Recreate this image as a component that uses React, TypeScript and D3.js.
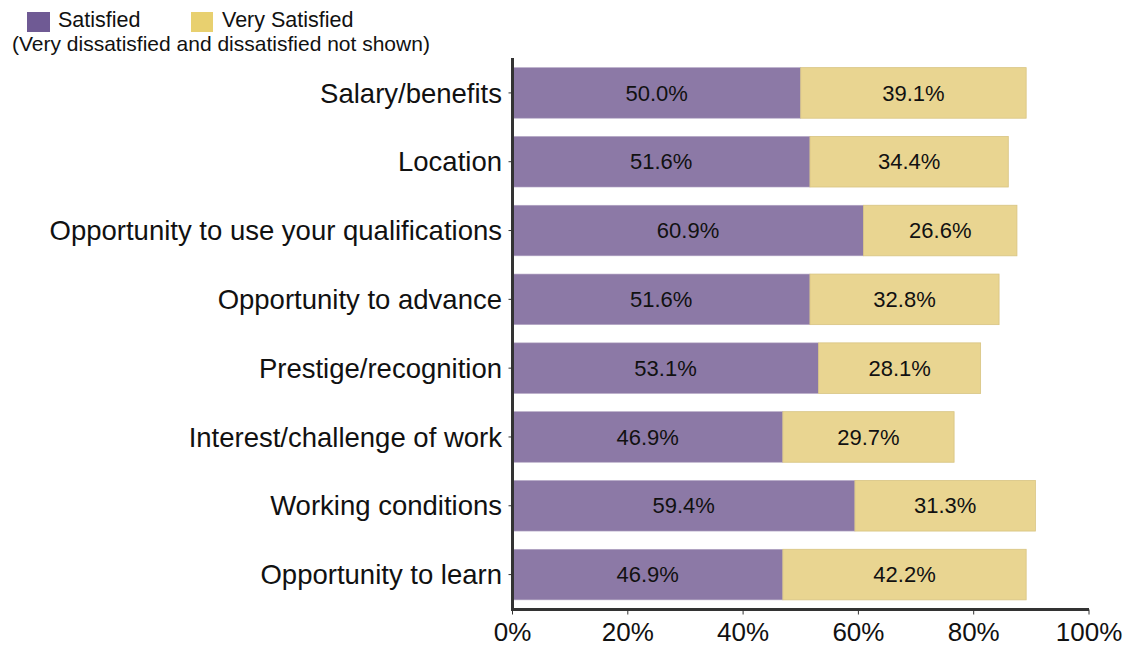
import React from "react";
import * as d3 from "d3";

const categories = [
  "Salary/benefits",
  "Location",
  "Opportunity to use your qualifications",
  "Opportunity to advance",
  "Prestige/recognition",
  "Interest/challenge of work",
  "Working conditions",
  "Opportunity to learn",
];
const satisfied = [50.0, 51.6, 60.9, 51.6, 53.1, 46.9, 59.4, 46.9];
const verySatisfied = [39.1, 34.4, 26.6, 32.8, 28.1, 29.7, 31.3, 42.2];
const xTicks = [0, 20, 40, 60, 80, 100];

const W = 1145;
const H = 647;
const left = 512.5;
const right = 1089;
const top = 58;
const bottom = 609.5;
const font = "'Liberation Sans', Arial, sans-serif";

export default function App() {
  const x = d3.scaleLinear().domain([0, 100]).range([left, right]);
  const y = d3.scaleBand<string>().domain(categories).range([top, bottom]).paddingInner(0.265).paddingOuter(0.14);
  const bw = y.bandwidth();
  return (
    <svg width={W} height={H} style={{ position: "absolute", left: 0, top: 0, fontFamily: font }}>
      <rect x={0} y={0} width={W} height={H} fill="#fff" />
      {/* legend */}
      <rect x={27} y={12} width={23} height={20} fill="#6F5A94" />
      <text x={58} y={27} fontSize={21.5} fill="#111">Satisfied</text>
      <rect x={191} y={12} width={22} height={20} fill="#E8D06F" />
      <text x={222} y={27} fontSize={21.5} fill="#111">Very Satisfied</text>
      <text x={12} y={51} fontSize={21} fill="#111">(Very dissatisfied and dissatisfied not shown)</text>
      {categories.map((c, i) => {
        const y0 = y(c)!;
        const s = satisfied[i];
        const v = verySatisfied[i];
        return (
          <g key={c}>
            <rect x={x(0)} y={y0} width={x(s) - x(0)} height={bw} fill="#8C79A6" stroke="#B3A6C4" strokeWidth={0.6} />
            <rect x={x(s)} y={y0} width={x(s + v) - x(s)} height={bw} fill="#E9D591" stroke="#D8C482" strokeWidth={0.8} />
            <text x={(x(0) + x(s)) / 2} y={y0 + bw / 2} dy="0.35em" textAnchor="middle" fontSize={22} fill="#111">
              {s.toFixed(1)}%
            </text>
            <text x={(x(s) + x(s + v)) / 2} y={y0 + bw / 2} dy="0.35em" textAnchor="middle" fontSize={22} fill="#111">
              {v.toFixed(1)}%
            </text>
            <line x1={left - 4} x2={left} y1={y0 + bw / 2} y2={y0 + bw / 2} stroke="#333" strokeWidth={1} />
            <text x={502} y={y0 + bw / 2} dy="0.35em" textAnchor="end" fontSize={27.5} fill="#111">
              {c}
            </text>
          </g>
        );
      })}
      {/* axes */}
      <line x1={left} x2={left} y1={top} y2={bottom + 1} stroke="#333" strokeWidth={3} />
      <line x1={left - 1.5} x2={right} y1={bottom} y2={bottom} stroke="#333" strokeWidth={3} />
      {xTicks.map((t) => (
        <g key={t}>
          <line x1={x(t)} x2={x(t)} y1={bottom} y2={bottom + 5} stroke="#333" strokeWidth={1} />
          <text x={x(t)} y={641} textAnchor="middle" fontSize={26} fill="#111">
            {t}%
          </text>
        </g>
      ))}
    </svg>
  );
}
